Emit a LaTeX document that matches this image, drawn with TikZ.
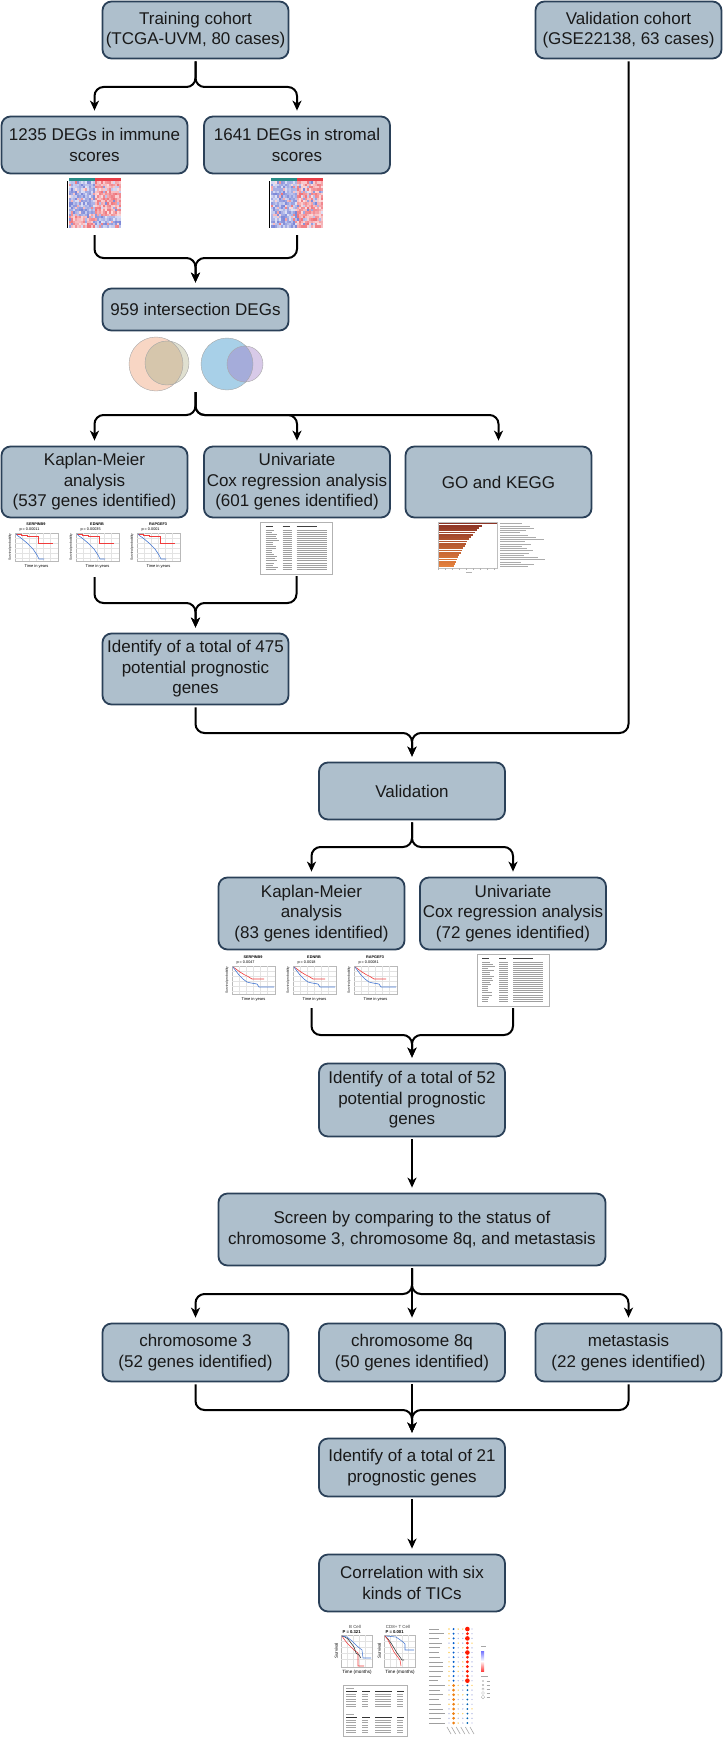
\documentclass[tikz,border=0pt]{standalone}
\usepackage{fontspec}
\setmainfont{Liberation Sans}
\usetikzlibrary{arrows.meta}
\definecolor{boxfill}{RGB}{174,191,204}
\definecolor{boxline}{RGB}{42,64,88}
\definecolor{hmblue}{RGB}{72,88,200}
\definecolor{hmred}{RGB}{232,62,72}
\definecolor{hmteal}{RGB}{40,140,135}
\definecolor{vpink}{RGB}{248,214,196}
\definecolor{volive}{RGB}{224,224,208}
\definecolor{vover}{RGB}{214,198,172}
\definecolor{vblue}{RGB}{168,208,232}
\definecolor{vpurple}{RGB}{216,202,232}
\definecolor{vover2}{RGB}{165,172,218}
\definecolor{gobarA}{RGB}{140,52,38}
\definecolor{gobarB}{RGB}{232,132,62}
\definecolor{kmred}{RGB}{240,60,60}
\definecolor{kmblue}{RGB}{70,120,210}

% heatmap thumbnail: left x, top y, type
\newcommand\heatmapthumb[3]{%
  \fill[hmteal] (#1,#2) rectangle ++(26,3);
  \fill[hmred] ({#1+26},#2) rectangle ++(26,3);
  \foreach \i in {0,...,25}{\foreach \j in {0,...,19}{%
    \pgfmathrandominteger{\rr}{18}{72}%
    \pgfmathrandominteger{\ff}{0}{7}%
    \pgfmathtruncatemacro{\isb}{#3==1 ? ((\i<13)==(\j<15)) : (\i<13)}%
    \ifnum\ff=0 \pgfmathtruncatemacro{\isb}{1-\isb}\fi
    \ifnum\isb=1
      \fill[hmblue!\rr!white] ({#1+2*\i},{#2+3.5+2.3*\j}) rectangle ++(2.1,2.4);
    \else
      \fill[hmred!\rr!white] ({#1+2*\i},{#2+3.5+2.3*\j}) rectangle ++(2.1,2.4);
    \fi}}
  \draw[black, line width=1pt] ({#1-1.2},{#2+3.5}) -- ({#1-1.2},{#2+49.5});
}

% KM thumbnail: x0, y0, gene, p, variant
\newcommand\kmthumb[5]{%
\begin{scope}[shift={(#1,#2)}]
  \node[font=\fontsize{3.8}{4}\selectfont\bfseries] at (29,2.2) {#3};
  \node[font=\fontsize{3.8}{4}\selectfont, anchor=west] at (9,7.5) {p = #4};
  \draw[gray!55, fill=white, line width=0.3pt] (8,11) rectangle (51,39);
  \foreach \g in {15,22,29,36,43} \draw[gray!22, line width=0.3pt] (\g,11) -- (\g,39);
  \foreach \g in {16,21,26,31,36} \draw[gray!22, line width=0.3pt] (8,\g) -- (51,\g);
  \node[rotate=90, font=\fontsize{3.2}{4}\selectfont] at (3,25) {Survival probability};
  \node[font=\fontsize{4}{4.5}\selectfont] at (29.5,44) {Time in years};
  \ifnum#5=1
    \draw[kmred, line width=0.6pt] (9,12) -- (14,12) -- (14,13) -- (20,13) -- (20,14) -- (31,14) -- (31,21.5) -- (46,21.5);
    \draw[kmblue, line width=0.6pt] (9,12) -- (11,14) -- (14,16) -- (17,18.5) -- (20,21) -- (23,24) -- (26,27) -- (28,30) -- (30,33) -- (32,37) -- (37,37);
  \else
    \draw[kmred, line width=0.6pt] (9,12) -- (12,14) -- (16,17) -- (20,19.5) -- (24,21.5) -- (28,24) -- (31,24) -- (40,24);
    \draw[kmblue, line width=0.6pt] (9,12) -- (12,16) -- (15,20) -- (19,24) -- (23,27) -- (27,28) -- (33,29) -- (35,32) -- (50,32);
  \fi
\end{scope}}

% Cox table thumbnail: x0, y0
\newcommand\coxthumb[2]{%
\begin{scope}[shift={(#1,#2)}]
  \draw[gray!60, fill=white, line width=0.6pt] (0,0) rectangle (72,52);
  \draw[black!75, line width=0.6pt] (5,4.5) -- (12,4.5) (22,4.5) -- (29,4.5) (36,4.5) -- (56,4.5);
  \foreach \k in {0,...,19}{%
    \pgfmathrandominteger{\la}{6}{13}%
    \draw[gray!75, line width=0.55pt] (5,{8+2.05*\k}) -- ++(\la,0)
      (22,{8+2.05*\k}) -- ++(9,0) (36,{8+2.05*\k}) -- ++(30,0);}
\end{scope}}

\begin{document}
\begin{tikzpicture}[x=1pt,y=-1pt,
  box/.style={draw=boxline, fill=boxfill, line width=1.8pt, rounded corners=9pt,
    minimum width=186pt, align=center, inner sep=0pt,
    font=\fontsize{17}{20.5}\selectfont, text=black!90},
  conn/.style={line width=2pt, rounded corners=9pt, shorten <=2pt},
  arr/.style={conn, -{Stealth[length=10pt,width=9pt,inset=3pt]}, shorten >=5pt},
  grp/.style={inner sep=0pt, minimum width=#1}
]
\pgfmathsetseed{11}
\useasboundingbox (0,0) rectangle (723,1739);

% ---------- boxes ----------
\node[box, minimum height=57pt] (train) at (195.5,30) {Training cohort\\(TCGA-UVM, 80 cases)};
\node[box, minimum height=57pt] (valc) at (628.5,30) {Validation cohort\\(GSE22138, 63 cases)};
\node[box, minimum height=57pt] (imm) at (94.5,145) {1235 DEGs in immune\\scores};
\node[box, minimum height=57pt] (strom) at (297,145) {1641 DEGs in stromal\\scores};
\node[box, minimum height=42pt] (int) at (195.5,309.5) {959 intersection DEGs};
\node[box, minimum height=71pt] (km1) at (94.5,482) {Kaplan-Meier\\analysis\\(537 genes identified)};
\node[box, minimum height=71pt] (cox1) at (297,482) {Univariate\\Cox regression analysis\\(601 genes identified)};
\node[box, minimum height=71pt] (go) at (498.5,482) {GO and KEGG};
\node[box, minimum height=71pt] (id475) at (195.5,669) {Identify of a total of 475\\potential prognostic\\genes};
\node[box, minimum height=57pt] (valid) at (412,791) {Validation};
\node[box, minimum height=72pt] (km2) at (311.5,913.5) {Kaplan-Meier\\analysis\\(83 genes identified)};
\node[box, minimum height=72pt] (cox2) at (513,913.5) {Univariate\\Cox regression analysis\\(72 genes identified)};
\node[box, minimum height=73pt] (id52) at (412,1100) {Identify of a total of 52\\potential prognostic\\genes};
\node[box, minimum height=72pt, minimum width=387pt] (screen) at (412,1229.5) {Screen by comparing to the status of\\chromosome 3, chromosome 8q, and metastasis};
\node[box, minimum height=58pt] (chr3) at (195.5,1352.5) {chromosome 3\\(52 genes identified)};
\node[box, minimum height=58pt] (chr8) at (412,1352.5) {chromosome 8q\\(50 genes identified)};
\node[box, minimum height=58pt] (meta) at (628.5,1352.5) {metastasis\\(22 genes identified)};
\node[box, minimum height=58pt] (id21) at (412,1467.5) {Identify of a total of 21\\prognostic genes};
\node[box, minimum height=57pt] (corr) at (412,1583) {Correlation with six\\kinds of TICs};

% ---------- thumbnail groups ----------
\node[grp=52pt, minimum height=55pt] (hmA) at (94.5,205.5) {};
\node[grp=52pt, minimum height=55pt] (hmB) at (297,205.5) {};
\heatmapthumb{68.5}{178}{1}
\heatmapthumb{271}{178}{2}

\node[grp=134pt, minimum height=53pt] (venn) at (195.5,363.5) {};
\begin{scope}
  \fill[vpink] (156,364) circle (27);
  \fill[volive] (167,363) circle (22);
  \begin{scope}\clip (156,364) circle (27); \fill[vover] (167,363) circle (22); \end{scope}
  \draw[gray!70, line width=0.4pt] (156,364) circle (27) (167,363) circle (22);
  \fill[vblue] (227,364) circle (26);
  \fill[vpurple] (245,364) circle (18);
  \begin{scope}\clip (227,364) circle (26); \fill[vover2] (245,364) circle (18); \end{scope}
  \draw[gray!70, line width=0.4pt] (227,364) circle (26) (245,364) circle (18);
\end{scope}

\node[grp=175pt, minimum height=53pt] (kmA) at (94.5,548.5) {};
\kmthumb{7}{522}{SERPINB9}{0.00011}{1}
\kmthumb{68}{522}{EDNRB}{0.00035}{1}
\kmthumb{129}{522}{RAPGEF3}{0.0001}{1}

\node[grp=72pt, minimum height=52pt] (tabA) at (296.5,548) {};
\coxthumb{260.5}{522}

\node[grp=120pt, minimum height=51pt] (goplot) at (498,547.5) {};
\begin{scope}
  \draw[gray!50, line width=0.4pt] (438,522) rectangle (497,568);
  \foreach \k/\L/\T in {0/58/22,1/43/30,2/40/34,3/38/26,4/36/20,5/34/28,6/32/36,7/30/44,8/28/25,9/27/31,10/26/22,11/24/27,12/23/33,13/22/29,14/20/24,15/19/38,16/18/45,17/17/21,18/16/34,19/15/28}{%
    \pgfmathtruncatemacro{\pc}{\k*5}
    \fill[gobarB!\pc!gobarA] (438.5,{522.6+2.25*\k}) rectangle ++(\L,1.85);
    \draw[gray!65, line width=0.45pt] (500,{523.5+2.25*\k}) -- ++(\T,0);}
  \foreach \t in {0,...,8} \draw[gray!60, line width=0.3pt] ({438.5+7*\t},568) -- ++(0,1.5);
  \draw[gray!60, line width=0.4pt] (466,572) -- ++(6,0);
\end{scope}

\node[grp=175pt, minimum height=51pt] (kmB) at (311.5,980.5) {};
\kmthumb{224}{955}{SERPINB9}{0.0047}{2}
\kmthumb{285}{955}{EDNRB}{0.0018}{2}
\kmthumb{346}{955}{RAPGEF3}{0.00081}{2}

\node[grp=72pt, minimum height=52pt] (tabB) at (513,980) {};
\coxthumb{477}{954}

% TIC thumbnails
\node[grp=160pt, minimum height=116pt] (tics) at (412,1680) {};
\foreach \ox/\ttl/\pv/\v in {334/B Cell/0.321/1, 377/CD8+ T Cell/0.001/2}{%
\begin{scope}[shift={(\ox,1622)}]
  \node[font=\fontsize{4.4}{5}\selectfont, text=black!75] at (21,5) {\ttl};
  \node[font=\fontsize{4.2}{5}\selectfont\bfseries, anchor=west] at (5,10.5) {P = \pv};
  \draw[gray!55, fill=white, line width=0.35pt] (7,13) rectangle (38,45);
  \foreach \g in {13,19,25,31} \draw[gray!22, line width=0.3pt] (\g,13) -- (\g,45);
  \foreach \g in {19,25,31,37} \draw[gray!22, line width=0.3pt] (7,\g) -- (38,\g);
  \node[rotate=90, font=\fontsize{4.4}{5}\selectfont] at (2.2,29) {Survival};
  \node[font=\fontsize{4.6}{5}\selectfont] at (23,50) {Time (months)};
  \ifnum\v=1
    \draw[kmred, line width=0.55pt] (8,14) -- (10,17) -- (13,21) -- (16,24) -- (20,28) -- (24,31) -- (24,44) -- (30,44);
    \draw[black!80, line width=0.55pt] (8,14) -- (11,15) -- (14,17) -- (17,21) -- (20,25) -- (22,31) -- (25,33) -- (27,36);
    \draw[kmblue, line width=0.55pt] (8,14) -- (13,15) -- (18,19) -- (23,24) -- (28,28) -- (29,36) -- (37,36);
  \else
    \draw[kmblue, line width=0.55pt] (8,14) -- (14,14.5) -- (19,15) -- (22,17) -- (26,20) -- (28,22) -- (28,28) -- (37,28);
    \draw[black!80, line width=0.55pt] (8,14) -- (11,17) -- (14,21) -- (17,26) -- (20,31) -- (23,35) -- (25,38) -- (27,38);
    \draw[kmred, line width=0.55pt] (8,14) -- (11,18) -- (14,24) -- (17,30) -- (20,34) -- (23,38) -- (24,44);
  \fi
\end{scope}}
% TIC table
\begin{scope}[shift={(343,1685)}]
  \draw[gray!60, fill=white, line width=0.5pt] (0,0) rectangle (64,51);
  \foreach \s in {0,26}{%
    \draw[gray!70, line width=0.4pt] (3,{3+\s}) -- ++(8,0);
    \draw[black!80, line width=0.6pt] (3,{6+\s}) -- ++(11,0) (19,{6+\s}) -- ++(8,0) (32,{6+\s}) -- ++(17,0) (54,{6+\s}) -- ++(7,0);
    \foreach \k in {0,...,5}{%
      \draw[gray!70, line width=0.45pt] (3,{9+\s+2.5*\k}) -- ++(10,0) (19,{9+\s+2.5*\k}) -- ++(6,0) (32,{9+\s+2.5*\k}) -- ++(16,0) (54,{9+\s+2.5*\k}) -- ++(6,0);}}
\end{scope}
% dot plot
\begin{scope}
  \foreach \k in {0,...,20}{%
    \pgfmathrandominteger{\la}{9}{16}%
    \draw[gray!75, line width=0.7pt] (429,{1629+4.7*\k}) -- ++(\la,0);
    \foreach \c in {0,...,5}{%
      \pgfmathrandominteger{\q}{0}{9}%
      \pgfmathsetmacro{\xx}{449+4.6*\c}%
      \ifnum\c=4
        \ifnum\k<12
          \fill[red!80!orange] (\xx,{1629+4.7*\k}) circle ({\q>4 ? 2.3 : 1.6});
        \else
          \fill[blue!45!cyan!70!black] (\xx,{1629+4.7*\k}) circle (1.0);
        \fi
      \else\ifnum\c=1
        \ifnum\k<12
          \fill[blue!55!cyan!80!black] (\xx,{1629+4.7*\k}) circle (1.1);
        \else
          \fill[orange!75!brown] (\xx,{1629+4.7*\k}) circle (1.5);
        \fi
      \else
        \ifnum\q<4
          \fill[yellow!40!orange!60] (\xx,{1629+4.7*\k}) circle (0.8);
        \else
          \fill[cyan!30!blue!35] (\xx,{1629+4.7*\k}) circle (0.7);
        \fi
      \fi\fi}}
  \foreach \c in {0,...,5} \draw[gray!70, line width=0.6pt] ({447+4.6*\c},1727) -- ++(4,7);
  \shade[top color=blue!55, bottom color=red!75, middle color=white] (481,1651) rectangle (484,1671);
  \draw[gray!70, line width=0.4pt] (481,1646) -- ++(5,0) (481,1676) -- ++(7,0);
  \foreach \k/\rad in {0/0.6,1/0.9,2/1.2,3/1.5,4/1.8}{%
    \draw[gray!70, line width=0.3pt] (483,{1681+4*\k}) circle (\rad);
    \draw[gray!70, line width=0.3pt] (486.5,{1681+4*\k}) -- ++(3,0);}
\end{scope}

% ---------- junction coordinates ----------
\coordinate (j1) at (195.5,87);
\coordinate (j2) at (195.5,258);
\coordinate (j3) at (195.5,415);
\coordinate (j4) at (195.5,603);
\coordinate (j5) at (412,733);
\coordinate (j6) at (412,847);
\coordinate (j7) at (412,1035);
\coordinate (j8) at (412,1294);
\coordinate (j9) at (412,1410);

% ---------- connectors ----------
\draw[arr] (train.south) -- (j1) -| (imm.north);
\draw[arr] (train.south) -- (j1) -| (strom.north);

\draw[arr] (hmA.south) -- (hmA.south |- j2) -- (j2) -- (int.north);
\draw[arr] (hmB.south) -- (hmB.south |- j2) -- (j2) -- (int.north);

\draw[arr] (venn.south) -- (j3) -| (km1.north);
\draw[arr] (venn.south) -- (j3) -| (cox1.north);
\draw[arr] (venn.south) -- (j3) -| (go.north);

\draw[arr] (kmA.south) -- (kmA.south |- j4) -- (j4) -- (id475.north);
\draw[arr] (tabA.south) -- (tabA.south |- j4) -- (j4) -- (id475.north);

\draw[arr] (id475.south) -- (id475.south |- j5) -- (j5) -- (valid.north);
\draw[arr] (valc.south) -- (valc.south |- j5) -- (j5) -- (valid.north);

\draw[arr] (valid.south) -- (j6) -| (km2.north);
\draw[arr] (valid.south) -- (j6) -| (cox2.north);

\draw[arr] (kmB.south) -- (kmB.south |- j7) -- (j7) -- (id52.north);
\draw[arr] (tabB.south) -- (tabB.south |- j7) -- (j7) -- (id52.north);

\draw[arr] (id52.south) -- (screen.north);

\draw[arr] (screen.south) -- (j8) -| (chr3.north);
\draw[arr] (screen.south) -- (chr8.north);
\draw[arr] (screen.south) -- (j8) -| (meta.north);

\draw[arr] (chr3.south) -- (chr3.south |- j9) -- (j9) -- (id21.north);
\draw[arr] (chr8.south) -- (id21.north);
\draw[arr] (meta.south) -- (meta.south |- j9) -- (j9) -- (id21.north);

\draw[arr] (id21.south) -- (corr.north);
\end{tikzpicture}
\end{document}
